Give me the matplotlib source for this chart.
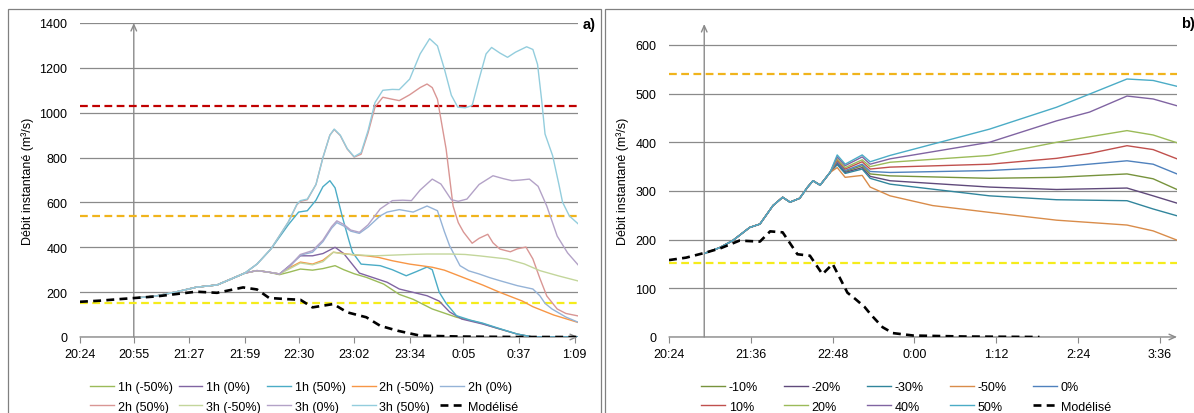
import matplotlib
matplotlib.use('Agg')
import matplotlib.pyplot as plt
from matplotlib.lines import Line2D
from matplotlib.patches import Rectangle

plt.rcParams['font.family'] = ['Liberation Sans', 'DejaVu Sans']

# ---------------- data (time = minutes after 20:24) ----------------
a_ticks = ['20:24', '20:55', '21:27', '21:59', '22:30', '23:02', '23:34', '0:05', '0:37', '1:09']
b_ticks = ['20:24', '21:36', '22:48', '0:00', '1:12', '2:24', '3:36']
t_prevision = '20:55'

a_seuils = [1030, 540, 152]
b_seuils = [540, 152]

# panel a) - rising part shared by all scenarios
a_rise = [(31.7, 174), (44, 183), (56, 202), (67, 222), (79, 232), (86, 255), (95, 285)]

a_1h_m50 = a_rise + [(102, 296), (108, 290), (115, 278), (121, 290), (127, 303), (134, 298), (140, 305),
                     (147, 318), (152, 300), (158, 282), (165, 266), (175, 236), (184, 190), (192, 168),
                     (203, 125), (217, 88), (225, 74), (232, 60), (240, 40), (252, 13), (261, 0), (287, 0)]
a_1h_0 = a_rise + [(102, 296), (108, 290), (115, 281), (121, 320), (127, 362), (134, 362), (140, 372),
                   (147, 400), (152, 372), (161, 285), (170, 262), (177, 244), (184, 214), (192, 199),
                   (200, 184), (207, 160), (213, 112), (220, 80), (232, 58), (240, 40), (252, 13), (261, 0), (287, 0)]
a_1h_50 = a_rise + [(102, 325), (110, 392), (120, 500), (126, 557), (131, 563), (136, 610), (140, 670),
                    (144, 697), (147, 665), (151, 541), (155, 430), (157, 378), (162, 325), (173, 318),
                    (180, 300), (188, 273), (194, 292), (200, 312), (203, 300), (207, 200), (211, 150),
                    (217, 95), (225, 75), (232, 62), (240, 42), (252, 13), (261, 0), (287, 0)]
a_2h_m50 = a_rise + [(102, 296), (108, 290), (115, 281), (121, 310), (127, 334), (134, 325), (140, 342),
                     (146, 378), (152, 372), (158, 366), (165, 362), (172, 355), (180, 340), (190, 325),
                     (203, 311), (210, 298), (223, 259), (232, 232), (242, 199), (255, 160), (261, 135),
                     (273, 98), (287, 65)]
a_2h_0 = a_rise + [(102, 296), (108, 290), (115, 281), (121, 315), (127, 365), (134, 378), (140, 425),
                   (145, 485), (148, 510), (152, 495), (156, 472), (161, 462), (166, 490), (173, 540),
                   (177, 557), (184, 568), (192, 557), (200, 584), (206, 563), (210, 470), (213, 407),
                   (219, 318), (224, 295), (230, 281), (236, 265), (242, 251), (252, 229), (261, 214),
                   (265, 184), (268, 150), (272, 125), (280, 89), (287, 66)]
a_2h_50 = a_rise + [(102, 325), (110, 392), (120, 512), (125, 590), (127, 605), (131, 612), (136, 680),
                    (140, 800), (144, 900), (146.5, 925), (150, 898), (154, 838), (158, 802), (162, 815),
                    (166, 910), (170, 1025), (174.5, 1069), (180, 1060), (184, 1054), (190, 1080),
                    (196, 1112), (200, 1128), (203, 1112), (206, 1060), (211, 838), (215, 584), (218, 510),
                    (221, 468), (226, 418), (230, 440), (235, 458), (238, 420), (242, 392), (248, 380),
                    (252, 393), (257, 401), (261, 348), (265, 262), (269, 183), (275, 125), (280, 105), (287, 94)]
a_3h_m50 = a_rise + [(102, 296), (108, 290), (115, 281), (121, 305), (127, 330), (134, 322), (140, 336),
                     (146, 378), (152, 370), (160, 366), (170, 362), (180, 365), (190, 368), (200, 370),
                     (213, 370), (222, 368), (230, 362), (246, 348), (256, 326), (265, 296), (276, 272), (287, 250)]
a_3h_0 = a_rise + [(102, 296), (108, 290), (115, 281), (121, 318), (127, 368), (134, 385), (140, 432),
                   (145, 492), (148, 518), (152, 502), (156, 477), (161, 467), (166, 500), (173, 571),
                   (180, 608), (186, 610), (191, 608), (196, 655), (203, 704), (208, 682), (214, 612),
                   (218, 605), (223, 615), (230, 680), (238, 719), (244, 706), (249, 697), (254, 700),
                   (259, 704), (264, 672), (269, 584), (275, 450), (281, 375), (287, 322)]
a_3h_50 = a_rise + [(102, 325), (110, 392), (120, 512), (125, 592), (127, 608), (131, 615), (136, 680),
                    (140, 800), (144, 900), (146.5, 927), (150, 900), (154, 840), (158, 804), (162, 822),
                    (166, 920), (170, 1045), (174.5, 1100), (180, 1104), (184, 1103), (190, 1150),
                    (196, 1262), (201.5, 1330), (206, 1298), (210, 1195), (214, 1078), (217.7, 1025),
                    (222, 1022), (226, 1032), (230, 1150), (234, 1262), (237.2, 1291), (242, 1266),
                    (246.4, 1247), (251, 1270), (257.4, 1294), (261, 1282), (263.7, 1215), (266, 1060),
                    (268, 905), (272.4, 808), (276, 680), (278.1, 601), (282, 540), (287, 505)]
a_model = [(0, 157), (11.5, 162), (23, 169), (31.7, 174), (44, 181), (56, 192), (67, 202), (79, 197),
           (94, 221), (102, 212), (109, 174), (119, 169), (127, 166), (134, 132), (146, 147), (154, 110),
           (165, 88), (173, 50), (183, 28), (196, 6), (219, 2), (253, 0), (287, 0)]

a_labels = ['1h (-50%)', '1h (0%)', '1h (50%)', '2h (-50%)', '2h (0%)',
            '2h (50%)', '3h (-50%)', '3h (0%)', '3h (50%)']
a_series = [a_1h_m50, a_1h_0, a_1h_50, a_2h_m50, a_2h_0, a_2h_50, a_3h_m50, a_3h_0, a_3h_50]

# panel b)
b_rise = [(31.7, 172), (45, 184), (56, 198), (71, 225), (80, 232), (91.5, 270), (100, 287), (106.5, 277),
          (115, 285), (122, 308), (126.7, 321), (133, 312), (141.7, 338)]
b_m10 = b_rise + [(148, 358), (155, 340), (170, 352), (177, 335), (194.5, 331), (282, 326), (341, 328),
                  (403, 335), (426, 325), (447, 303)]
b_m20 = b_rise + [(148, 356), (155, 338), (170, 348), (177, 330), (194.5, 321), (282, 308), (341, 303),
                  (403, 306), (426, 290), (447, 275)]
b_m30 = b_rise + [(148, 354), (155, 336), (170, 345), (177, 326), (194.5, 314), (282, 290), (341, 282),
                  (403, 280), (426, 263), (447, 249)]
b_m50 = b_rise + [(148, 348), (155, 328), (170, 332), (177, 308), (194.5, 290), (232, 270), (282, 256),
                  (341, 240), (403, 230), (426, 218), (447, 199)]
b_0 = b_rise + [(148, 360), (155, 342), (170, 355), (177, 340), (194.5, 338), (282, 342), (341, 349),
                (403, 362), (426, 355), (447, 335)]
b_10 = b_rise + [(148, 363), (155, 345), (170, 360), (177, 345), (194.5, 349), (282, 355), (341, 367),
                 (370, 377), (403, 393), (426, 385), (447, 366)]
b_20 = b_rise + [(148, 366), (155, 348), (170, 364), (177, 350), (194.5, 359), (282, 373), (341, 400),
                 (403, 424), (426, 415), (447, 399)]
b_40 = b_rise + [(148, 370), (155, 352), (170, 370), (177, 355), (194.5, 366), (282, 400), (341, 444),
                 (370, 462), (403, 495), (426, 489), (447, 475)]
b_50 = b_rise + [(148, 374), (155, 355), (170, 374), (177, 360), (194.5, 373), (282, 427), (341, 472),
                 (370, 499), (403, 530), (426, 527), (447, 515)]
b_model = [(0, 158), (15, 163), (30, 172), (45, 182), (62, 198), (80, 196), (89, 217), (100, 215),
           (113, 170), (124, 167), (135, 129), (144, 150), (157, 91), (164, 78), (172, 62), (178, 45),
           (188, 20), (197, 8), (215, 3), (260, 1), (326, 0)]

b_labels = ['-10%', '-20%', '-30%', '-50%', '0%', '10%', '20%', '40%', '50%']
b_series = [b_m10, b_m20, b_m30, b_m50, b_0, b_10, b_20, b_40, b_50]

# ---------------- style ----------------
a_colors = ['#9BBB59', '#8064A2', '#4BACC6', '#F79646', '#95B3D7',
            '#D99694', '#C3D69B', '#B3A2C7', '#93CDDD']
b_colors = ['#77933C', '#604A7B', '#31859C', '#D98C4A', '#4F81BD',
            '#C0504D', '#9BBB59', '#8064A2', '#4BACC6']
a_seuil_colors = ['#C00000', '#F0B41C', '#F5EC1C']
b_seuil_colors = ['#F0B41C', '#F5EC1C']
grey = '#8A8A8A'
W, H = 1194, 414


def minutes(hhmm):
    h, m = map(int, hhmm.split(':'))
    return ((h * 60 + m) - (20 * 60 + 24)) % 1440


def draw_panel(ax, series, colors, model, seuils, seuil_colors, ticks, xmax, ytop, ystep, ygrid_max):
    for s, c in zip(series, colors):
        ax.plot([p[0] for p in s], [p[1] for p in s], color=c, lw=1.0, zorder=3)
    for v, c in zip(seuils, seuil_colors):
        ax.axhline(v, color=c, lw=1.6, dashes=(3.5, 2), zorder=2)
    ax.plot([p[0] for p in model], [p[1] for p in model], color='black', lw=1.9,
            dashes=(3, 2), zorder=4)
    ax.set_xlim(0, xmax)
    ax.set_ylim(0, ytop)
    ax.set_yticks(range(0, ygrid_max + 1, ystep))
    ax.set_xticks([minutes(t) for t in ticks])
    ax.set_xticklabels(ticks)
    ax.grid(axis='y', color=grey, lw=0.9, zorder=0)
    ax.set_axisbelow(True)
    for sp in ax.spines.values():
        sp.set_visible(False)
    ax.tick_params(axis='x', length=4, color=grey, labelsize=9, pad=4)
    ax.tick_params(axis='y', length=0, labelsize=9, pad=9)
    arrow = dict(arrowstyle='->,head_length=0.45,head_width=0.2', color=grey, lw=1,
                 shrinkA=0, shrinkB=0)
    ax.annotate('', xy=(xmax, 0), xytext=(0, 0), arrowprops=arrow, annotation_clip=False, zorder=1)
    tp = minutes(t_prevision)
    ax.annotate('', xy=(tp, ytop), xytext=(tp, 0), arrowprops=arrow, annotation_clip=False, zorder=1)


fig = plt.figure(figsize=(W / 100, H / 100), dpi=100)

# panel frames
fig.patches.append(Rectangle((8 / W, -0.1), 593 / W, 1.1 - 10 / H, transform=fig.transFigure,
                             fill=False, edgecolor='#808080', lw=0.9))
fig.patches.append(Rectangle((605 / W, -0.1), 600 / W, 1.1 - 10 / H, transform=fig.transFigure,
                             fill=False, edgecolor='#808080', lw=0.9))

ax_a = fig.add_axes([80 / W, 76 / H, 498 / W, 314 / H])
draw_panel(ax_a, a_series, a_colors, a_model, a_seuils, a_seuil_colors, a_ticks, 287, 1400, 200, 1400)

ax_b = fig.add_axes([669 / W, 76 / H, 508 / W, 313 / H])
draw_panel(ax_b, b_series, b_colors, b_model, b_seuils, b_seuil_colors, b_ticks, 447, 643, 100, 600)

ylab = 'Débit instantané (m³/s)'
fig.text(28 / W, 1 - 181 / H, ylab, rotation=90, ha='center', va='center', fontsize=9)
fig.text(623 / W, 1 - 181 / H, ylab, rotation=90, ha='center', va='center', fontsize=9)
fig.text(583 / W, 1 - 25 / H, 'a)', fontsize=10.5, fontweight='bold', ha='left', va='center')
fig.text(1181 / W, 1 - 24 / H, 'b)', fontsize=10.5, fontweight='bold', ha='left', va='center')


def legend(labels, colors, x, spacing):
    handles = [Line2D([], [], color=c, lw=1.0) for c in colors]
    handles.append(Line2D([], [], color='black', lw=1.9, dashes=(3, 2)))
    labels = labels + ['Modélisé']
    order = [i for pair in zip(range(5), range(5, 10)) for i in pair]
    fig.legend([handles[i] for i in order], [labels[i] for i in order], ncol=5,
               loc='upper center', bbox_to_anchor=(x / W, 1 - 371 / H), frameon=False,
               fontsize=9, handlelength=1.9, handletextpad=0.3, columnspacing=spacing,
               labelspacing=0.6, borderpad=0.4)


legend(a_labels, a_colors, 304, 0.5)
legend(b_labels, b_colors, 906, 2.1)

fig.savefig('out.png', dpi=100)
